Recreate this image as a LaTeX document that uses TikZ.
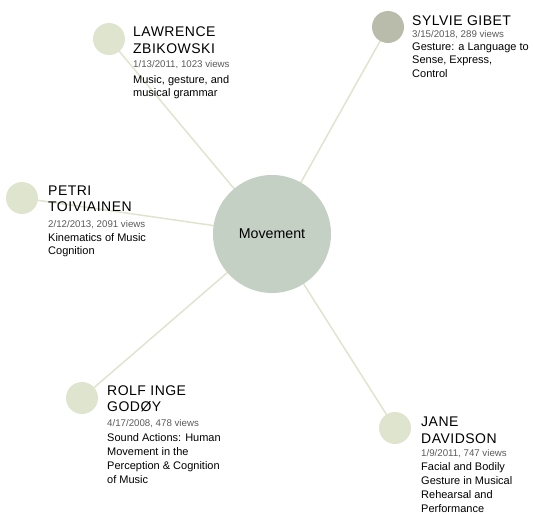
\documentclass[tikz,border=0pt]{standalone}
\usepackage{fontspec}
\setmainfont{Liberation Sans}
\newfontfamily\namefont[LetterSpace=3.5]{Liberation Sans}
\usetikzlibrary{backgrounds}
\definecolor{hubfill}{RGB}{197,208,196}
\definecolor{leaffill}{RGB}{223,228,206}
\definecolor{leafdark}{RGB}{185,188,170}
\definecolor{linkcol}{RGB}{224,228,206}
\definecolor{datecol}{RGB}{90,90,90}
% one author card: id, x, name baseline, name, date baseline, date, title baseline, title
\newcommand\personcard[8]{%
  \node[txt] (#1-name) at (#2,#3)
    {\parbox[t]{150pt}{\raggedright\namefont\fontsize{14}{16.6}\selectfont #4}};
  \node[txt,text=datecol] (#1-date) at (#2,#5)
    {\fontsize{9.7}{12}\selectfont #6};
  \node[txt] (#1-title) at (#2,#7)
    {\parbox[t]{150pt}{\raggedright\fontsize{11}{13.9}\selectfont #8}};
}
\begin{document}
\begin{tikzpicture}[x=1pt,y=-1pt,
  hub/.style={circle,fill=hubfill,minimum size=118pt,inner sep=0},
  leaf/.style={circle,fill=leaffill,minimum size=32pt,inner sep=0},
  link/.style={draw=linkcol,line width=1.5pt},
  txt/.style={anchor=base west,inner sep=0,text=black}]
\useasboundingbox (0,0) rectangle (533,514);

% central topic and author circles
\node[hub] (hub) at (272,234) {};
\node[font=\fontsize{14.2}{16}\selectfont, inner sep=0, anchor=base] (hublabel) at (272,238) {Movement};
\node[leaf] (lz) at (109,39) {};
\node[leaf,fill=leafdark] (sg) at (388,27) {};
\node[leaf] (pt) at (22,198) {};
\node[leaf] (rg) at (82,398) {};
\node[leaf] (jd) at (395,428) {};

% spokes behind everything
\begin{scope}[on background layer]
  \foreach \p in {lz,sg,pt,rg,jd}
    \draw[link] (hub.center) -- (\p.center);
\end{scope}

\personcard{lz}{133}{36.7}{LAWRENCE\\ZBIKOWSKI}{67}{1/13/2011, 1023 views}{83}{Music, gesture, and\\musical grammar}
\personcard{sg}{412}{25}{SYLVIE GIBET}{37}{3/15/2018, 289 views}{50}{Gesture: a Language to\\Sense, Express,\\Control}
\personcard{pt}{48}{195}{PETRI\\TOIVIAINEN}{227}{2/12/2013, 2091 views}{241}{Kinematics of Music\\Cognition}
\personcard{rg}{107}{395}{ROLF INGE\\GOD\O Y}{426}{4/17/2008, 478 views}{441.5}{Sound Actions: Human\\Movement in the\\Perception \& Cognition\\of Music}
\personcard{jd}{421}{426.7}{JANE\\DAVIDSON}{456.5}{1/9/2011, 747 views}{470.5}{Facial and Bodily\\Gesture in Musical\\Rehearsal and\\Performance}
\end{tikzpicture}
\end{document}
